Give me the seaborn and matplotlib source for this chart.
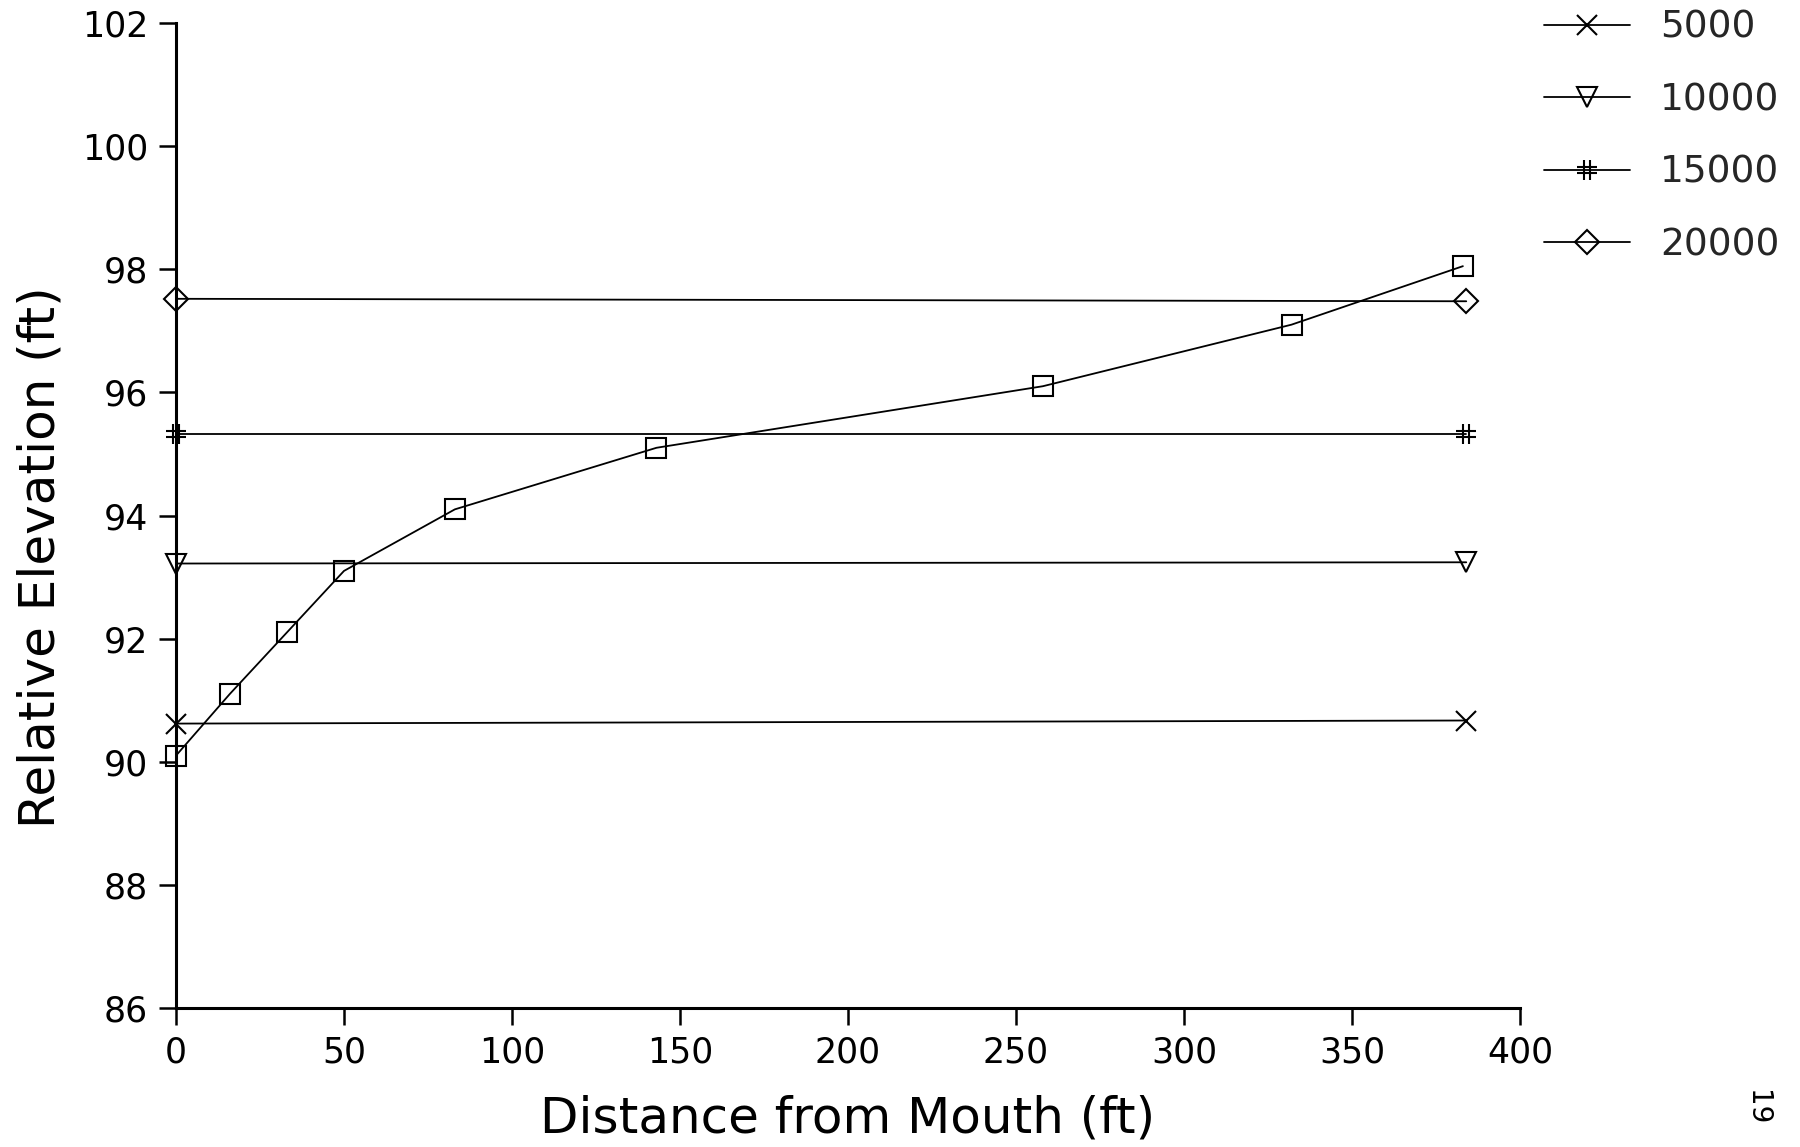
import numpy as np
import pandas as pd
import matplotlib
matplotlib.use("Agg")
import matplotlib.pyplot as plt
from matplotlib.path import Path
import seaborn as sns

# ---- data ----
profile_x = [0, 16, 33, 50, 83, 143, 258, 332, 383]
profile_y = [90.1, 91.1, 92.1, 93.1, 94.1, 95.1, 96.1, 97.1, 98.05]

level_x = [0, 384]
level_labels = ["5000", "10000", "15000", "20000"]
level_5000 = [90.62, 90.67]
level_10000 = [93.22, 93.24]
level_15000 = [95.32, 95.32]
level_20000 = [97.52, 97.48]

x_ticks = [0, 50, 100, 150, 200, 250, 300, 350, 400]
y_ticks = [86, 88, 90, 92, 94, 96, 98, 100, 102]

sns.set_theme(style="white")
plt.rcParams['font.family'] = ['DejaVu Sans']

fig = plt.figure(figsize=(18, 11.47), dpi=100)
ax = fig.add_axes([176/1800, 1 - 1008/1147, (1520-176)/1800, (1008-23)/1147])

hash_marker = Path(
    [(-0.35, -1), (-0.35, 1), (0.35, -1), (0.35, 1),
     (-1, 0.3), (1, 0.3), (-1, -0.3), (1, -0.3)],
    [Path.MOVETO, Path.LINETO, Path.MOVETO, Path.LINETO,
     Path.MOVETO, Path.LINETO, Path.MOVETO, Path.LINETO])

lw = 1.3
common = dict(color="black", linewidth=lw, markerfacecolor="none",
              markeredgecolor="black", markeredgewidth=1.5, clip_on=False)

sns.lineplot(x=profile_x, y=profile_y, ax=ax, marker="s", markersize=15,
             **common)

markers = ["x", "v", hash_marker, "D"]
sizes = [14, 15, 14, 12]
level_vals = [level_5000, level_10000, level_15000, level_20000]
handles = []
for lab, vals, m, s in zip(level_labels, level_vals, markers, sizes):
    sns.lineplot(x=level_x, y=vals, ax=ax, marker=m, markersize=s,
                 label=lab, legend=False, **common)
    handles.append(ax.lines[-1])

ax.set_xlim(0, 400)
ax.set_ylim(86, 102)
ax.set_xticks(x_ticks)
ax.set_yticks(y_ticks)
ax.set_xticklabels([str(t) for t in x_ticks], fontsize=25)
ax.set_yticklabels([str(t) for t in y_ticks], fontsize=25)
ax.tick_params(axis="both", direction="out", length=12, width=1.8,
               color="black", labelcolor="black", pad=8,
               bottom=True, left=True)
for side in ["top", "right"]:
    ax.spines[side].set_visible(False)
for side in ["left", "bottom"]:
    ax.spines[side].set_color("black")
    ax.spines[side].set_linewidth(2.2)

ax.set_xlabel("Distance from Mouth (ft)", fontsize=36, labelpad=18,
              color="black")
ax.set_ylabel("Relative Elevation (ft)", fontsize=36, color="black")
ax.yaxis.set_label_coords(-0.083, 0.458)

fig.legend(handles=handles, labels=level_labels, loc="upper left",
           bbox_to_anchor=(1544/1800, 1 - 10/1147), frameon=False,
           fontsize=27, handlelength=2.3, handletextpad=0.8,
           labelspacing=0.97, borderaxespad=0, borderpad=0)

fig.text(1757/1800, 1 - 1108/1147, "19", rotation=-90, fontsize=20,
         ha="center", va="center", color="black")

fig.savefig("out.png", dpi=100, facecolor="white")
